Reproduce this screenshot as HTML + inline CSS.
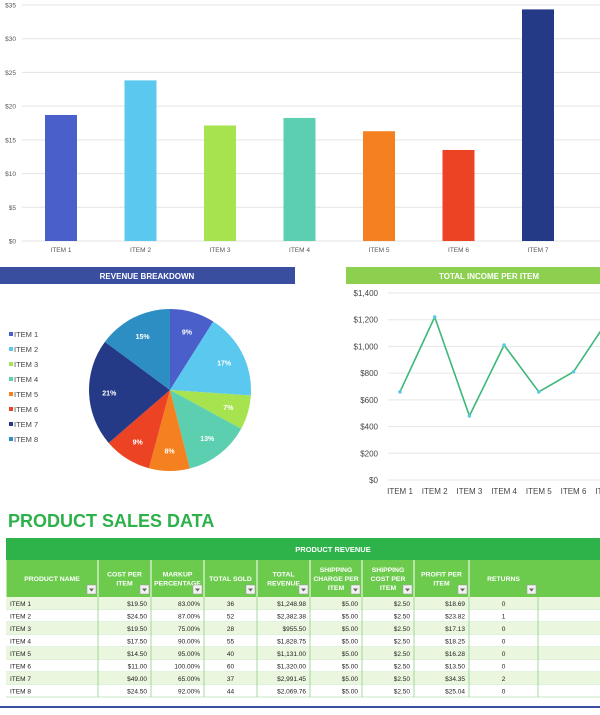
<!DOCTYPE html>
<html><head><meta charset="utf-8"><style>
body{margin:0;width:600px;height:710px;overflow:hidden;background:#fff;font-family:"Liberation Sans",sans-serif}
svg text{font-family:"Liberation Sans",sans-serif}
</style></head><body>
<svg id="s" width="600" height="710" xmlns="http://www.w3.org/2000/svg">
<g id="bar"></g>
<rect x="0" y="267" width="295" height="17" fill="#3a4ea0"/>
<text x="147" y="279" font-size="8" font-weight="bold" fill="#fff" text-anchor="middle">REVENUE BREAKDOWN</text>
<rect x="346" y="267" width="254" height="17" fill="#8dd050"/>
<text x="489" y="279" font-size="8" font-weight="bold" fill="#fff" text-anchor="middle">TOTAL INCOME PER ITEM</text>
<g id="pie"></g>
<g id="line"></g>
<text x="8" y="527" font-size="18" font-weight="bold" fill="#2db14a">PRODUCT SALES DATA</text>
<g id="tbl"></g>
<rect x="0" y="706" width="600" height="2" fill="#3a4ea0"/>
</svg>
<script>
const items=["ITEM 1","ITEM 2","ITEM 3","ITEM 4","ITEM 5","ITEM 6","ITEM 7","ITEM 8"];
const profit=[18.69,23.82,17.13,18.25,16.28,13.50,34.35];
const barTicks=[0,5,10,15,20,25,30,35];
const revenue=[1248.98,2382.38,955.50,1828.75,1131.00,1320.00,2991.45,2069.76];
const income=[660,1220,480,1010,660,810,1200];
const lineTicks=[0,200,400,600,800,1000,1200,1400];
const colors=["#4a5fc9","#5bc8f0","#a6e34f","#5ccfb0","#f5801f","#ec4324","#253a86","#2d8ec4"];
const rows=[
["ITEM 1","$19.50","83.00%","36","$1,248.98","$5.00","$2.50","$18.69","0"],
["ITEM 2","$24.50","87.00%","52","$2,382.38","$5.00","$2.50","$23.82","1"],
["ITEM 3","$19.50","75.00%","28","$955.50","$5.00","$2.50","$17.13","0"],
["ITEM 4","$17.50","90.00%","55","$1,828.75","$5.00","$2.50","$18.25","0"],
["ITEM 5","$14.50","95.00%","40","$1,131.00","$5.00","$2.50","$16.28","0"],
["ITEM 6","$11.00","100.00%","60","$1,320.00","$5.00","$2.50","$13.50","0"],
["ITEM 7","$49.00","65.00%","37","$2,991.45","$5.00","$2.50","$34.35","2"],
["ITEM 8","$24.50","92.00%","44","$2,069.76","$5.00","$2.50","$25.04","0"]];
const heads=[["PRODUCT NAME"],["COST PER","ITEM"],["MARKUP","PERCENTAGE"],["TOTAL SOLD"],["TOTAL","REVENUE"],["SHIPPING","CHARGE PER","ITEM"],["SHIPPING","COST PER","ITEM"],["PROFIT PER","ITEM"],["RETURNS"]];
const NS="http://www.w3.org/2000/svg";
function mk(p,t,a,txt){const e=document.createElementNS(NS,t);for(const k in a)e.setAttribute(k,a[k]);if(txt!=null)e.textContent=txt;p.appendChild(e);return e;}
// bar chart
const bar=document.getElementById('bar');
const by=v=>241-v*(236/35), bx=i=>61+i*79.5;
barTicks.forEach(t=>{
 const l=mk(bar,'line',{x1:22,x2:600,y1:by(t),y2:by(t),stroke:'#e3e3e3','stroke-width':1});
 
 
 const tx=mk(bar,'text',{x:16,y:by(t)+2.5,'font-size':6.5,fill:'#555','text-anchor':'end'},'$'+t);
 
 
});
profit.forEach((v,i)=>{
 const r=mk(bar,'rect',{x:bx(i)-16,y:by(v),width:32,height:by(0)-by(v),fill:colors[i]});
 
 
 const tx=mk(bar,'text',{x:bx(i),y:252,'font-size':6.5,fill:'#555','text-anchor':'middle'},items[i]);
 
 
});
// pie
const pie=document.getElementById('pie');
const cx=170,cy=390,R=81,tot=revenue.reduce((a,b)=>a+b,0);
let a0=-Math.PI/2;
revenue.forEach((v,i)=>{
 const a1=a0+v/tot*2*Math.PI;
 const p=mk(pie,'path',{d:`M${cx},${cy}L${cx+R*Math.cos(a0)},${cy+R*Math.sin(a0)}A${R},${R} 0 ${a1-a0>Math.PI?1:0} 1 ${cx+R*Math.cos(a1)},${cy+R*Math.sin(a1)}Z`,fill:colors[i]});
 
 
 const am=(a0+a1)/2;
 const tx=mk(pie,'text',{x:cx+R*0.75*Math.cos(am),y:cy+R*0.75*Math.sin(am)+3,'font-size':7,'font-weight':'bold',fill:'#fff','text-anchor':'middle'},Math.round(v/tot*100)+'%');
 
 
 a0=a1;
 const ly=337+i*15;
 const sq=mk(pie,'rect',{x:9,y:ly-5,width:4,height:4,fill:colors[i]});
 
 
 const lt=mk(pie,'text',{x:14,y:ly,'font-size':7.5,fill:'#444'},items[i]);
 
 
});
// line chart
const line=document.getElementById('line');
const ly2=v=>480-v*(187/1400), lx=i=>400+i*34.7;
lineTicks.forEach(t=>{
 const l=mk(line,'line',{x1:388,x2:600,y1:ly2(t),y2:ly2(t),stroke:'#e6e6e6'});
 
 
 const tx=mk(line,'text',{x:378,y:ly2(t)+3,'font-size':8,fill:'#444','text-anchor':'end'},'$'+t.toLocaleString('en-US'));
 
 
});
for(let i=0;i<7;i++){
 const tx=mk(line,'text',{x:lx(i),y:494,'font-size':8,fill:'#444','text-anchor':'middle'},items[i]);
 
 
}
const pl=mk(line,'polyline',{points:income.map((v,i)=>lx(i)+','+ly2(v)).join(' '),fill:'none',stroke:'#3cb878','stroke-width':1.6});


income.forEach((v,i)=>{
 const c=mk(line,'circle',{cx:lx(i),cy:ly2(v),r:1.8,fill:'#5cc8e8'});
 
 
});
// table
const tbl=document.getElementById('tbl');
const cols=[6,98,151,204,257,310,362,414,469,538,600];
mk(tbl,'rect',{x:6,y:538,width:594,height:22,fill:'#2eb24a'});
const pt=mk(tbl,'text',{x:333,y:552,'font-size':7.5,'font-weight':'bold',fill:'#fff','text-anchor':'middle'},'PRODUCT REVENUE');


mk(tbl,'rect',{x:6,y:560,width:594,height:37,fill:'#6ccb4d'});
heads.forEach((h,c)=>{
 const x0=cols[c],x1=cols[c+1];
 mk(tbl,'line',{x1:x0,x2:x0,y1:560,y2:697,stroke:'#fff','stroke-width':1});
 const st=581-(h.length-1)*4.5;
 h.forEach((s,k)=>{
  const tx=mk(tbl,'text',{x:(x0+x1)/2,y:st+k*9,'font-size':6.8,'font-weight':'bold',fill:'#fff','text-anchor':'middle'},s);
  
  
 });
 const f=mk(tbl,'rect',{x:x1-11,y:585,width:9,height:9,fill:'#f2f2f2',stroke:'#999','stroke-width':0.5});
 
 
 mk(tbl,'path',{d:`M${x1-9},${588.5}h5l-2.5,3z`,fill:'#666'});
});
rows.forEach((r,i)=>{
 const y=597+i*12.5;
 mk(tbl,'rect',{x:6,y:y,width:594,height:12.5,fill:i%2?'#fff':'#eaf6dd'});
 mk(tbl,'line',{x1:6,x2:600,y1:y+12.5,y2:y+12.5,stroke:'#8fd08a','stroke-width':0.6});
 r.forEach((v,c)=>{
  const x0=cols[c],x1=cols[c+1];
  let a={y:y+9,'font-size':6.5,fill:'#222'};
  if(c==0){a.x=x0+4}else if(c==3||c==8){a.x=(x0+x1)/2;a['text-anchor']='middle'}else{a.x=x1-4;a['text-anchor']='end'}
  const tx=mk(tbl,'text',a,v);
  
  
 });
});
cols.slice(1,10).forEach(x=>mk(tbl,'line',{x1:x,x2:x,y1:597,y2:697,stroke:'#8fd08a','stroke-width':0.8}));
</script>
</body></html>
